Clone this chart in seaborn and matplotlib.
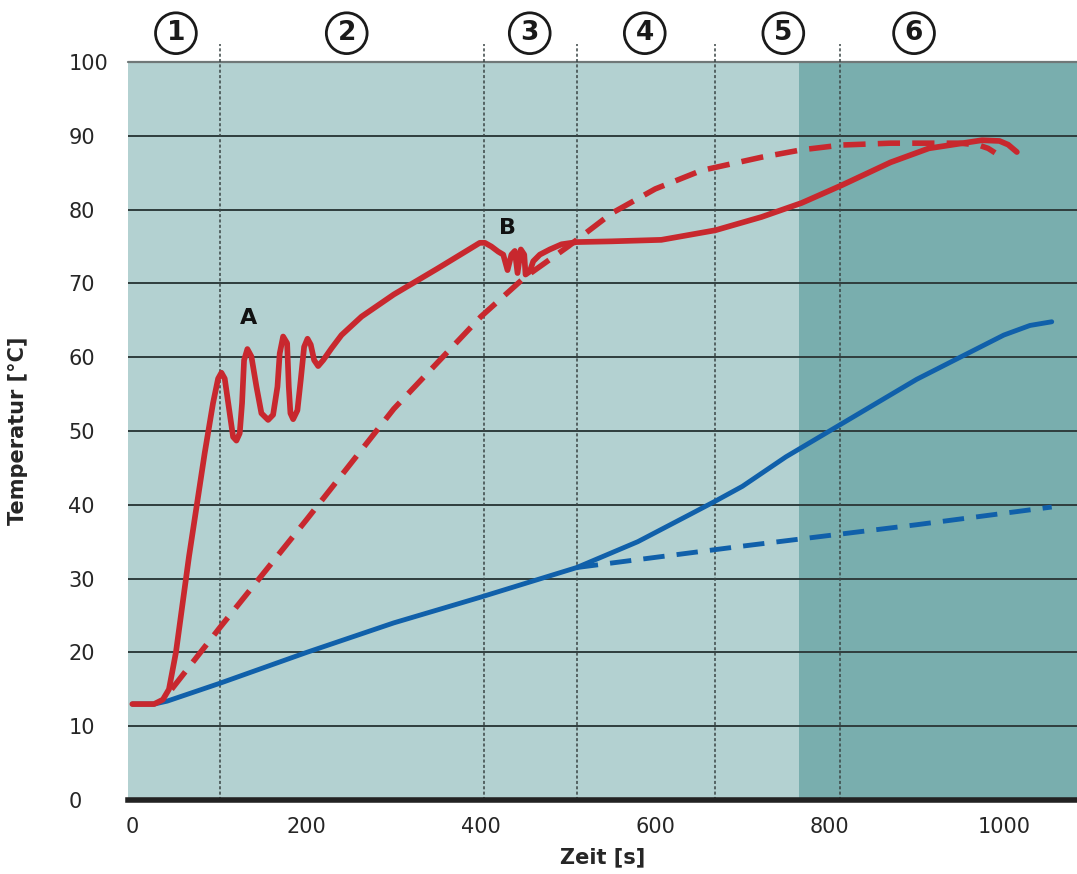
import numpy as np
import pandas as pd
import seaborn as sns
import matplotlib.pyplot as plt

# red solid curve (with the oscillations A and B)
red_x = [0, 25, 35, 42, 50, 65, 83, 92.6, 98.4, 102.2, 106, 111.7, 115.6, 119.4, 123.2,
         125.9, 128.2, 132, 136.6, 142.4, 148.1, 155.8, 161.5, 166.5, 169.1, 173, 177.6,
         179.5, 181.4, 184.5, 189.4, 193.2, 197.1, 201, 204.7, 208.6, 213.2, 219, 228.5,
         240, 263, 300, 350, 389, 398.7, 404.5, 412, 419.9, 425.6, 430.5, 435, 438.9, 442,
         445.8, 449.7, 451.2, 456, 460, 467.6, 479, 492.5, 510, 550, 607, 669, 722, 768,
         814, 870, 914, 975, 995, 1005, 1015]
red_y = [13, 13, 13.6, 15, 20, 33, 47, 53.8, 57.1, 57.9, 57.1, 52.4, 49.2, 48.7, 49.7,
         53.8, 59.6, 61.1, 60.1, 56, 52.4, 51.5, 52.2, 56, 60.5, 62.8, 61.9,
         56, 52.4, 51.6, 52.8, 56.9, 61.4, 62.5, 61.7, 59.6, 58.8, 59.6, 61.2,
         63, 65.5, 68.5, 72, 74.8, 75.5, 75.5, 75, 74.3, 73.9, 71.8, 73.9, 74.4, 71.4,
         74.6, 73.9, 71.2, 71.6, 73, 73.9, 74.6, 75.3, 75.6, 75.7, 75.9, 77.2, 79, 80.9,
         83.3, 86.4, 88.3, 89.4, 89.3, 88.8, 87.8]

# red dashed curve
red_d_x = [45, 100, 200, 300, 400, 450, 500, 550, 600, 653, 722, 768, 814, 870, 914, 950, 971, 982, 990]
red_d_y = [15, 23.3, 38, 53, 65.5, 70.8, 75, 79.5, 82.8, 85.3, 87.1, 88.1, 88.75, 89, 89, 89, 88.75, 88.3, 87.7]

# blue solid curve
blue_x = [0, 25, 40, 100, 200, 300, 400, 510, 580, 640, 669, 700, 750, 800, 850, 900, 950, 1000, 1030, 1055]
blue_y = [13, 13, 13.4, 15.8, 20, 24, 27.5, 31.5, 35, 38.7, 40.5, 42.5, 46.5, 50, 53.5, 57, 60, 63, 64.3, 64.8]

# blue dashed curve
blue_d_x = [510, 700, 900, 1055]
blue_d_y = [31.5, 34.4, 37.3, 39.7]

phase_bounds = [100, 403, 510, 669, 812]
phase_labels = ['1', '2', '3', '4', '5', '6']
phase_label_x = [50, 246, 456, 588, 747, 897]
dark_start = 765

sns.set_style('white')
plt.rcParams['font.family'] = ['DejaVu Sans']

red = '#c8282e'
blue = '#1060aa'

fig = plt.figure(figsize=(10.77, 8.74), dpi=100)
ax = fig.add_axes([128 / 1077, 74 / 874, 949 / 1077, 738 / 874])
ax.set_facecolor('#b3d1d1')
ax.set_xlim(-5, 1084)
ax.set_ylim(0, 100)
ax.axvspan(dark_start, 1084, color='#79aeae', lw=0, zorder=0)

for yv in range(10, 100, 10):
    ax.axhline(yv, color='#2f3d3d', lw=1.4, zorder=1)
ax.axhline(100, color='#707878', lw=1.6, zorder=1, clip_on=False)

for xv in phase_bounds:
    ax.plot([xv, xv], [0, 102.4], color='#3a4545', lw=1.1, ls=(0, (2, 1.5)),
            clip_on=False, zorder=2)

sns.lineplot(x=blue_d_x, y=blue_d_y, ax=ax, sort=False, estimator=None, color=blue,
             lw=3.5, linestyle=(0, (4.4, 2.5)), zorder=3)
sns.lineplot(x=blue_x, y=blue_y, ax=ax, sort=False, estimator=None, color=blue,
             lw=3.5, zorder=3, solid_capstyle='round', solid_joinstyle='round')
sns.lineplot(x=red_d_x, y=red_d_y, ax=ax, sort=False, estimator=None, color=red,
             lw=4.0, linestyle=(0, (4.0, 2.2)), zorder=4)
sns.lineplot(x=red_x, y=red_y, ax=ax, sort=False, estimator=None, color=red,
             lw=4.1, zorder=4, solid_capstyle='round', solid_joinstyle='round')

ax.text(133, 65.3, 'A', ha='center', va='center', fontsize=16, fontweight='bold', color='#111')
ax.text(430, 77.5, 'B', ha='center', va='center', fontsize=16, fontweight='bold', color='#111')

for lab, xv in zip(phase_labels, phase_label_x):
    ax.text(xv, 103.9, lab, ha='center', va='center', fontsize=19, fontweight='bold',
            color='#1a1a1a', clip_on=False,
            bbox=dict(boxstyle='circle,pad=0.28', fc='white', ec='#1a1a1a', lw=2))

ax.set_xticks([0, 200, 400, 600, 800, 1000])
ax.set_yticks(range(0, 101, 10))
ax.tick_params(axis='both', length=0, labelsize=15)
ax.tick_params(axis='y', pad=43)
ax.tick_params(axis='x', pad=12)
for lbl in ax.get_yticklabels():
    lbl.set_horizontalalignment('left')

for side in ['top', 'right', 'left']:
    ax.spines[side].set_visible(False)
ax.spines['bottom'].set_linewidth(4)
ax.spines['bottom'].set_color('#222')
ax.spines['bottom'].set_zorder(5)

ax.set_xlabel('Zeit [s]', fontsize=15, fontweight='bold', labelpad=8)
ax.set_ylabel('Temperatur [°C]', fontsize=15, fontweight='bold')
ax.yaxis.set_label_coords(-100 / 949, 0.5)

fig.savefig('out.png', dpi=100)
